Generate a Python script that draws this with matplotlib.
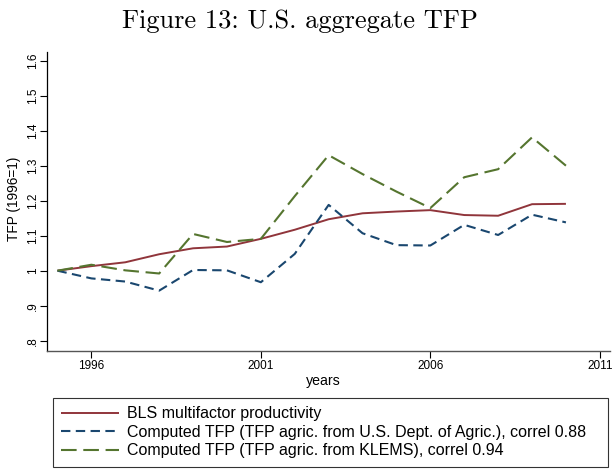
import matplotlib
matplotlib.use("Agg")
import matplotlib.pyplot as plt

years = list(range(1995, 2011))
bls = [1.000, 1.013, 1.024, 1.047, 1.064, 1.069, 1.091, 1.117, 1.147, 1.164,
       1.169, 1.173, 1.159, 1.157, 1.190, 1.191]
usda = [1.000, 0.978, 0.969, 0.943, 1.002, 1.001, 0.967, 1.048, 1.188, 1.107,
        1.073, 1.072, 1.131, 1.102, 1.160, 1.138]
klems = [1.000, 1.017, 1.001, 0.992, 1.105, 1.082, 1.091, 1.213, 1.330, 1.276,
         1.226, 1.179, 1.267, 1.290, 1.381, 1.300]

xticks = [1996, 2001, 2006, 2011]
yticks = [0.8, 0.9, 1.0, 1.1, 1.2, 1.3, 1.4, 1.5, 1.6]
ytick_labels = ['.8', '.9', '1', '1.1', '1.2', '1.3', '1.4', '1.5', '1.6']

labels = ["BLS multifactor productivity",
          "Computed TFP (TFP agric. from U.S. Dept. of Agric.), correl 0.88",
          "Computed TFP (TFP agric. from KLEMS), correl 0.94"]

W, H = 614, 472
fig = plt.figure(figsize=(W / 100, H / 100), dpi=100)
plt.rcParams['font.family'] = ['Liberation Sans', 'DejaVu Sans']

x0, x1 = 47.3, 610.0
y0, y1 = 51.7, 350.7
ax = fig.add_axes([x0 / W, 1 - y1 / H, (x1 - x0) / W, (y1 - y0) / H])

red = '#90353B'
navy = '#1A476F'
green = '#55752F'

l1, = ax.plot(years, bls, color=red, lw=1.4, solid_capstyle='butt')
l2, = ax.plot(years, usda, color=navy, lw=1.5, dashes=(4.5, 2.6))
l3, = ax.plot(years, klems, color=green, lw=1.5, dashes=(7.5, 3.2))

ax.set_xlim(1994.7, 2011.3)
ax.set_ylim(0.7714, 1.6257)
ax.set_xticks(xticks)
ax.set_xticklabels([str(t) for t in xticks], fontsize=8.5)
ax.set_yticks(yticks)
ax.set_yticklabels(ytick_labels, fontsize=8.5, rotation=90, va='center')
ax.tick_params(axis='both', direction='out', length=4.8, width=0.8, color='black')
ax.tick_params(axis='x', pad=2)
ax.tick_params(axis='y', pad=1.5)
for s in ['top', 'right']:
    ax.spines[s].set_visible(False)
ax.spines['left'].set_color('black')
ax.spines['bottom'].set_color('#555555')
ax.spines['left'].set_linewidth(0.9)
ax.spines['bottom'].set_linewidth(1.0)

fig.text(14 / W, 1 - 199 / H, "TFP (1996=1)", rotation=90, ha='center', va='center', fontsize=9.8)
fig.text(323 / W, 1 - 381 / H, "years", ha='center', va='center', fontsize=10.2)

fig.text(299.5 / W, 1 - 28.3 / H, "Figure 13: U.S. aggregate TFP", ha='center', va='baseline',
         fontsize=19, family=['cmr10', 'DejaVu Serif'])

top = 1 - 398 / H
leg = fig.legend([l1, l2, l3], labels, loc='upper left',
                 bbox_to_anchor=(52.7 / W, top - 0.3, 555.3 / W, 0.3), mode='expand',
                 fontsize=11.5, frameon=True, fancybox=False, edgecolor='black',
                 handlelength=3.6, handletextpad=0.56, labelspacing=0.22,
                 borderaxespad=0, borderpad=0.52)
leg.get_frame().set_linewidth(0.8)

fig.savefig("out.png", dpi=100)
